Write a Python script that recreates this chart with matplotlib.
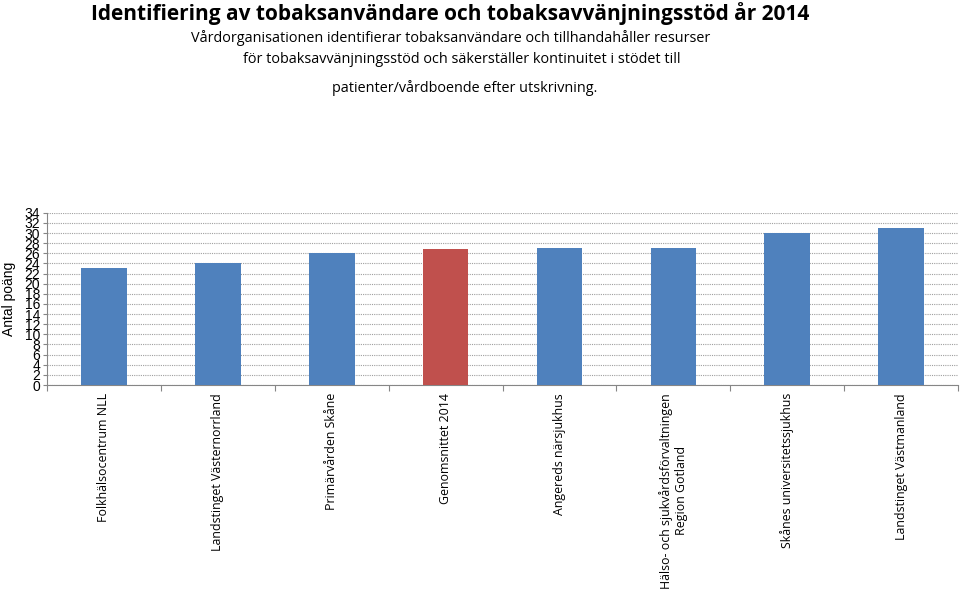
import numpy as np
import matplotlib as mpl
import matplotlib.pyplot as plt

mpl.rc('font', family=['Open Sans', 'DejaVu Sans'])

categories = ['Folkhälsocentrum NLL', 'Landstinget Västernorrland', 'Primärvården Skåne',
              'Genomsnittet 2014', 'Angereds närsjukhus',
              'Hälso- och sjukvårdsförvaltningen\nRegion Gotland',
              'Skånes universitetssjukhus', 'Landstinget Västmanland']
values = [23, 24, 26, 26.9, 27, 27, 30, 31]
highlight = 'Genomsnittet 2014'

yticks = list(range(0, 35, 2))

title = 'Identifiering av tobaksanvändare och tobaksavvänjningsstöd år 2014'
sub1 = 'Vårdorganisationen identifierar tobaksanvändare och tillhandahåller resurser'
sub2 = 'för tobaksavvänjningsstöd och säkerställer kontinuitet i stödet till'
sub3 = 'patienter/vårdboende efter utskrivning.'

blue = '#4f81bd'
red = '#c0504d'

fig = plt.figure(figsize=(9.6, 5.96), dpi=100)
ax = fig.add_axes([0.049, 0.354, 0.949, 0.289])

x = np.arange(len(categories))
colors = [red if c == highlight else blue for c in categories]
ax.bar(x, values, width=0.4, color=colors, zorder=3)

ax.set_xlim(-0.5, len(categories) - 0.5)
ax.set_ylim(0, 34)
ax.set_yticks(yticks)
ax.set_yticklabels([str(v) for v in yticks], family='Liberation Sans', fontsize=10)
ax.tick_params(axis='y', length=3, pad=2, color='#868686')
ax.grid(axis='y', linestyle=(0, (1, 1)), color='#a0a0a0', linewidth=0.8, zorder=0)

# category labels centred under bars, boundary ticks between them
ax.set_xticks(np.arange(-0.5, len(categories)))
ax.set_xticklabels([])
ax.tick_params(axis='x', length=4, color='#868686', direction='out')
for xi, lab in zip(x, categories):
    ax.text(xi, -1.6, lab, rotation=90, ha='center', va='top', fontsize=8.9,
            multialignment='center', linespacing=1.15)

for side in ['top', 'right']:
    ax.spines[side].set_visible(False)
for side in ['left', 'bottom']:
    ax.spines[side].set_color('#868686')

ax.set_ylabel('Antal poäng', family='Liberation Sans', fontsize=10, labelpad=6)

fig.text(0.469, 0.978, title, ha='center', va='center', fontsize=15, fontweight='bold')
fig.text(0.469, 0.936, sub1, ha='center', va='center', fontsize=10.4)
fig.text(0.481, 0.901, sub2, ha='center', va='center', fontsize=10.4)
fig.text(0.484, 0.852, sub3, ha='center', va='center', fontsize=10.4)

plt.savefig('out.png', dpi=100)
